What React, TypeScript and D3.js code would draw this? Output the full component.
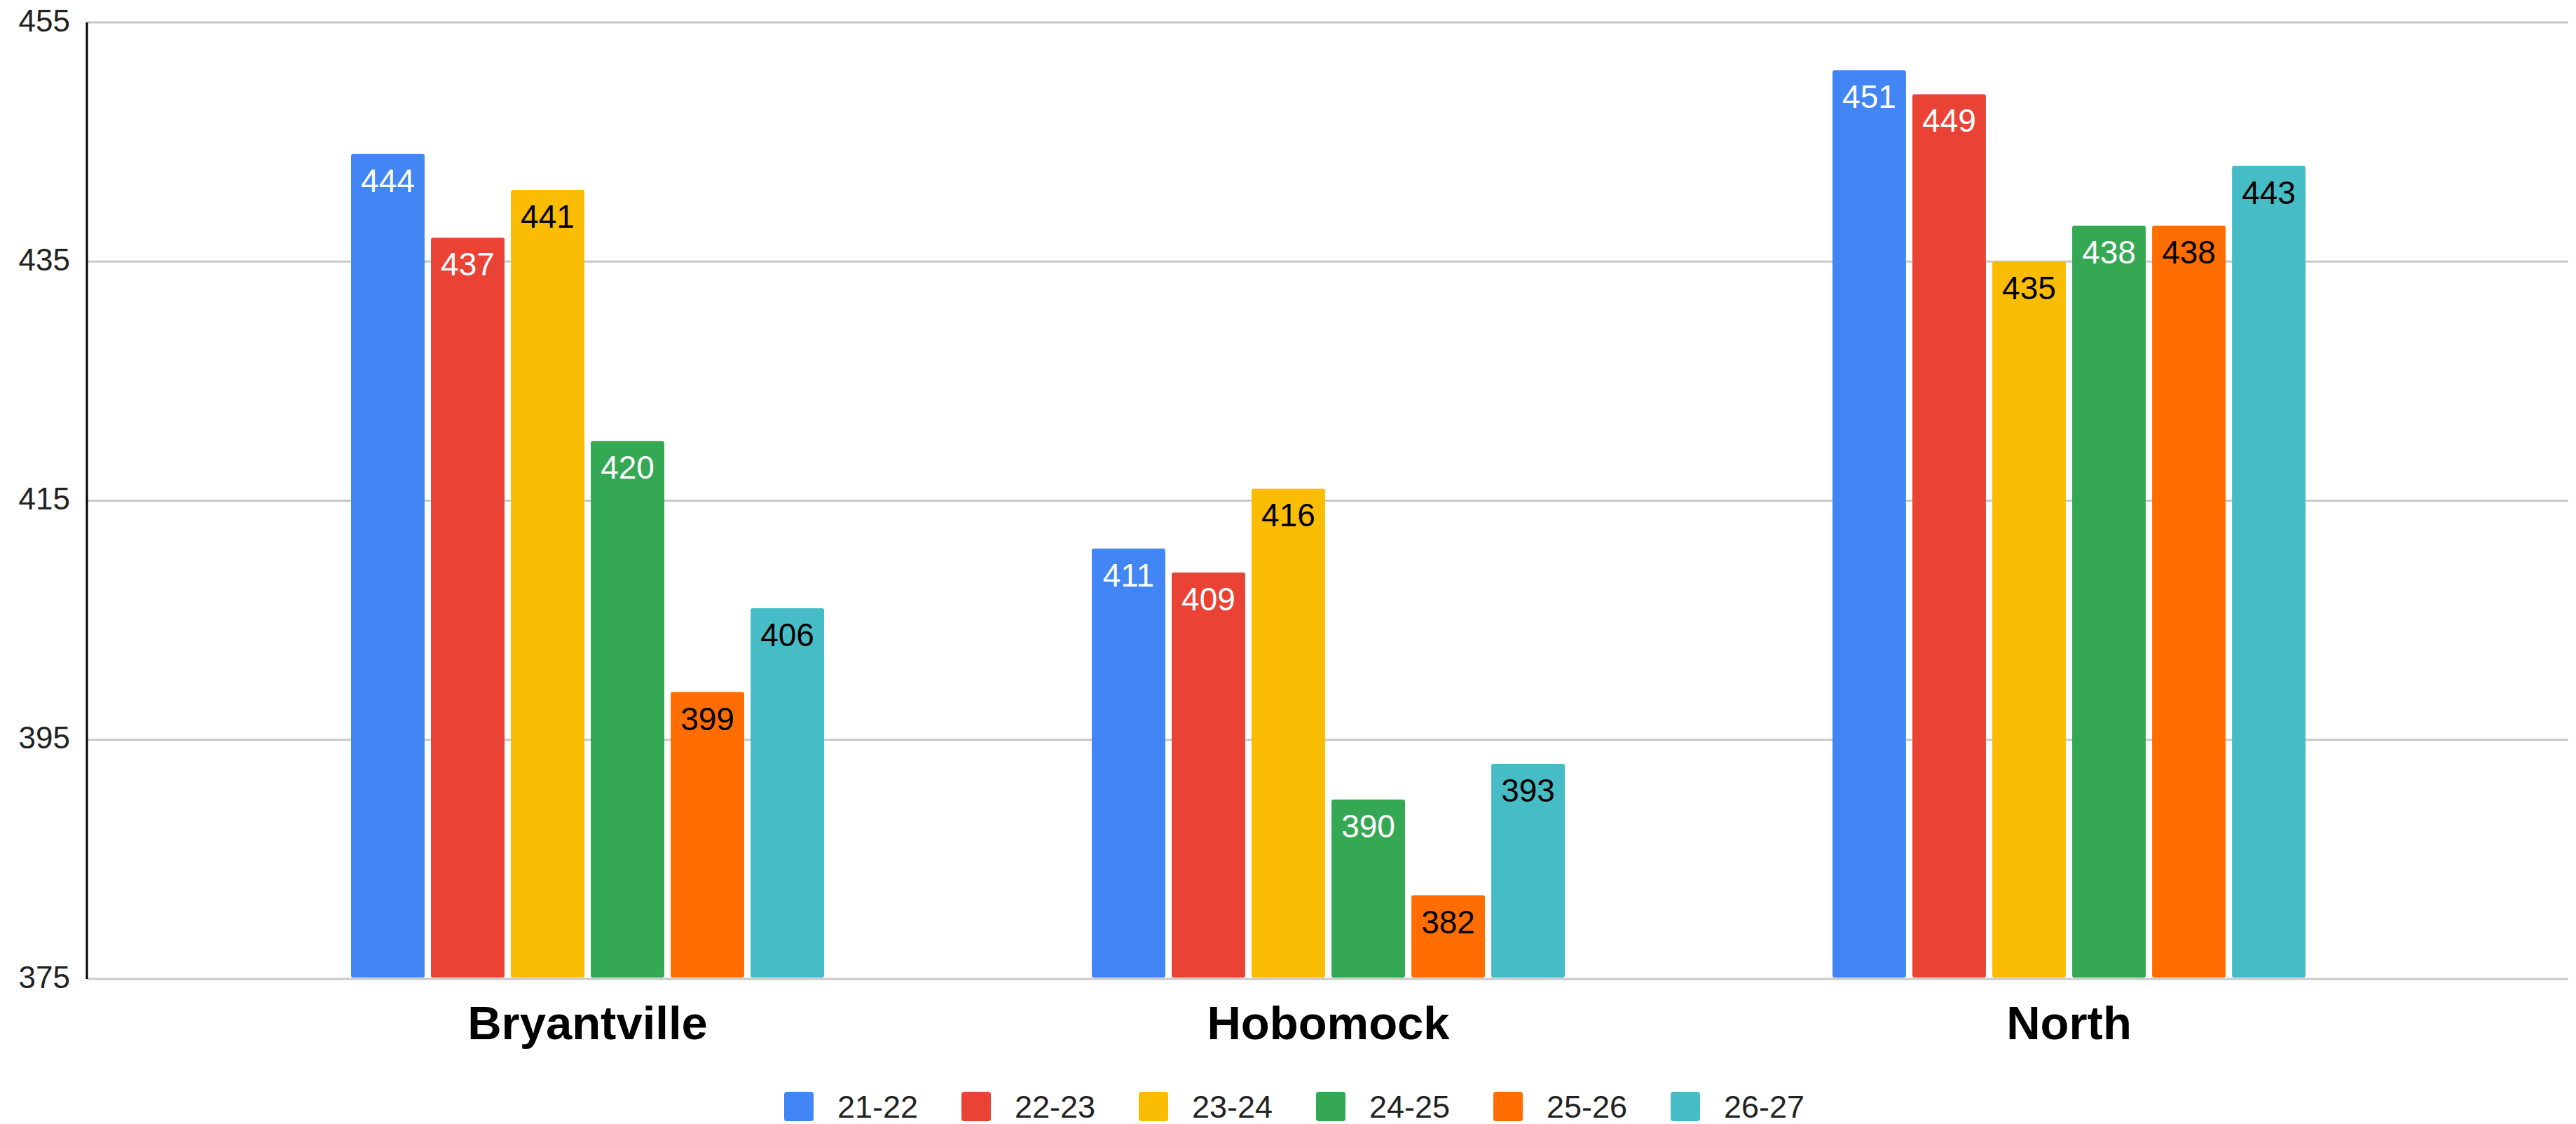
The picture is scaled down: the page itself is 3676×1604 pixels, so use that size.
import { useRef, useEffect } from "react";
import { select, scaleLinear, scaleBand } from "d3";

const schools = ["Bryantville", "Hobomock", "North"];
const years = ["21-22", "22-23", "23-24", "24-25", "25-26", "26-27"];
const colors = ["#4285F4", "#EA4335", "#FBBC04", "#34A853", "#FF6D01", "#46BDC6"];
const labelColors = ["#fff", "#fff", "#000", "#fff", "#000", "#000"];
const yTicks = [375, 395, 415, 435, 455];

// one array per year, ordered like schools
const y2122 = [444, 411, 451];
const y2223 = [437, 409, 449];
const y2324 = [441, 416, 435];
const y2425 = [420, 390, 438];
const y2526 = [399, 382, 438];
const y2627 = [406, 393, 443];
const series = [y2122, y2223, y2324, y2425, y2526, y2627];

const W = 3676;
const H = 1604;
const FONT = "Arial, 'Liberation Sans', sans-serif";

export default function App() {
  const ref = useRef<SVGSVGElement | null>(null);

  useEffect(() => {
    const svg = select(ref.current!);
    svg.selectAll("*").remove();

    const left = 124;
    const right = 3665;

    //scales
    const y = scaleLinear().domain([375, 455]).range([1397, 32]);
    const x0 = scaleBand().domain(schools).range([310, 3481]);
    const x1 = scaleBand()
      .domain(years)
      .range([191, x0.bandwidth() - 191])
      .paddingInner(0.08);

    //gridlines
    svg
      .append("g")
      .selectAll("line")
      .data(yTicks)
      .join("line")
      .attr("x1", left)
      .attr("x2", right)
      .attr("y1", (d) => y(d))
      .attr("y2", (d) => y(d))
      .attr("stroke", "#c8c8c8")
      .attr("stroke-width", 3);

    //tick labels
    svg
      .append("g")
      .selectAll("text")
      .data(yTicks)
      .join("text")
      .attr("x", 100)
      .attr("y", (d) => y(d) - 3)
      .attr("text-anchor", "end")
      .attr("dominant-baseline", "central")
      .attr("font-family", FONT)
      .attr("font-size", 44)
      .attr("fill", "#222")
      .text((d) => d);

    //bars
    const groups = svg
      .append("g")
      .selectAll("g")
      .data(schools)
      .join("g")
      .attr("transform", (d) => `translate(${x0(d)},0)`);

    const cells = groups
      .selectAll("g")
      .data((_, i) => series.map((s, j) => ({ v: s[i], j })))
      .join("g");

    cells
      .append("rect")
      .attr("x", (d) => x1(years[d.j])!)
      .attr("y", (d) => y(d.v))
      .attr("width", x1.bandwidth())
      .attr("height", (d) => y(375) - 2 - y(d.v))
      .attr("rx", 3)
      .attr("fill", (d) => colors[d.j]);

    cells
      .append("text")
      .attr("x", (d) => x1(years[d.j])! + x1.bandwidth() / 2)
      .attr("y", (d) => y(d.v) + 54)
      .attr("text-anchor", "middle")
      .attr("font-family", FONT)
      .attr("font-size", 46)
      .attr("fill", (d) => labelColors[d.j])
      .text((d) => d.v);

    //axis line
    svg
      .append("line")
      .attr("x1", left)
      .attr("x2", left)
      .attr("y1", 32)
      .attr("y2", 1397)
      .attr("stroke", "#000")
      .attr("stroke-width", 3);

    //category labels
    svg
      .append("g")
      .selectAll("text")
      .data(schools)
      .join("text")
      .attr("x", (d) => x0(d)! + x0.bandwidth() / 2)
      .attr("y", 1483)
      .attr("text-anchor", "middle")
      .attr("font-family", FONT)
      .attr("font-size", 67)
      .attr("font-weight", "bold")
      .attr("fill", "#000")
      .text((d) => d);

    //legend
    const legend = svg
      .append("g")
      .selectAll("g")
      .data(years)
      .join("g")
      .attr("transform", (_, i) => `translate(${1119 + i * 253},1579)`);

    legend
      .append("rect")
      .attr("x", 0)
      .attr("y", -21)
      .attr("width", 42)
      .attr("height", 42)
      .attr("rx", 4)
      .attr("fill", (_, i) => colors[i]);

    legend
      .append("text")
      .attr("x", 76)
      .attr("y", 0)
      .attr("dominant-baseline", "central")
      .attr("font-family", FONT)
      .attr("font-size", 45)
      .attr("fill", "#222")
      .text((d) => d);
  }, []);

  return (
    <svg
      ref={ref}
      width={W}
      height={H}
      style={{ position: "absolute", left: 0, top: 0, background: "#fff" }}
    ></svg>
  );
}
